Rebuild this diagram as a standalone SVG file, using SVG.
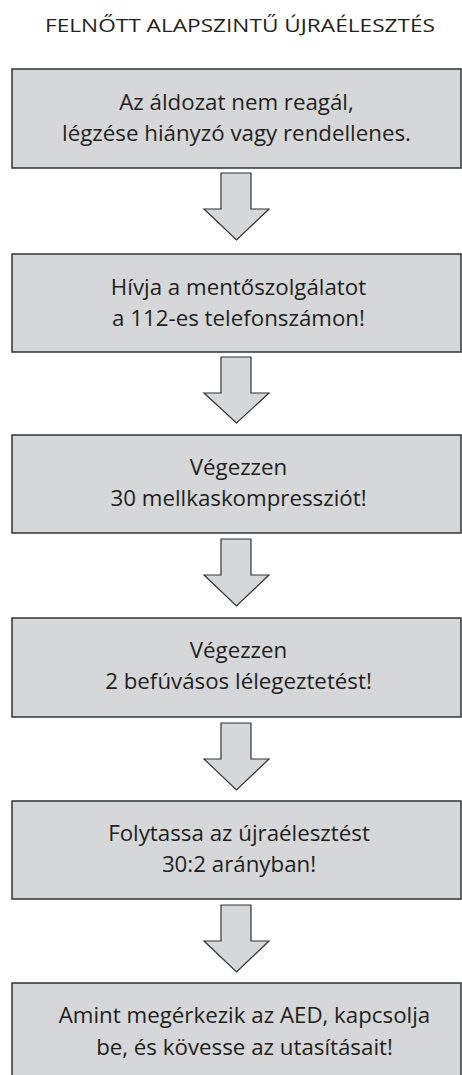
<svg xmlns="http://www.w3.org/2000/svg" width="462" height="1075" viewBox="0 0 462 1075">
<style>
.box{fill:#d6d7d9;stroke:#333;stroke-width:1.5}
.arr{fill:#d6d7d9;stroke:#333;stroke-width:1.2;stroke-linejoin:miter}
text{font-family:"Open Sans","Noto Sans","Liberation Sans",sans-serif;fill:#231f20;text-anchor:middle}
.t{font-size:22.3px}
.title{font-size:18.5px}
</style>
<rect width="462" height="1075" fill="#fff"/>
<text class="title" x="240" y="32" textLength="390" lengthAdjust="spacingAndGlyphs">FELNŐTT ALAPSZINTŰ ÚJRAÉLESZTÉS</text>
<g id="connectors">
<polygon class="arr" points="221,173 251,173 251,209 269,209 236.5,240 204,209 221,209"/>
<polygon class="arr" points="221,357 251,357 251,393 269,393 236.5,423 204,393 221,393"/>
<polygon class="arr" points="221,539 251,539 251,575 269,575 236.5,606 204,575 221,575"/>
<polygon class="arr" points="221,723 251,723 251,759 269,759 236.5,790 204,759 221,759"/>
<polygon class="arr" points="221,905 251,905 251,941 269,941 236.5,972 204,941 221,941"/>
</g>
<g id="n1">
<rect class="box" x="12" y="69" width="449" height="99"/>
<text class="t" x="236.5" y="110">Az áldozat nem reagál,</text>
<text class="t" x="236.5" y="141">légzése hiányzó vagy rendellenes.</text>
</g>
<g id="n2">
<rect class="box" x="12" y="254" width="449" height="98"/>
<text class="t" x="238.5" y="295">Hívja a mentőszolgálatot</text>
<text class="t" x="238.5" y="326">a 112-es telefonszámon!</text>
</g>
<g id="n3">
<rect class="box" x="12" y="435" width="449" height="98"/>
<text class="t" x="238.5" y="475">Végezzen</text>
<text class="t" x="238.5" y="506">30 mellkaskompressziót!</text>
</g>
<g id="n4">
<rect class="box" x="12" y="618" width="449" height="99"/>
<text class="t" x="238.5" y="658">Végezzen</text>
<text class="t" x="238.5" y="689">2 befúvásos lélegeztetést!</text>
</g>
<g id="n5">
<rect class="box" x="12" y="801" width="449" height="98"/>
<text class="t" x="239" y="841">Folytassa az újraélesztést</text>
<text class="t" x="239" y="872">30:2 arányban!</text>
</g>
<g id="n6">
<rect class="box" x="12" y="983" width="449" height="110"/>
<text class="t" x="244.5" y="1023">Amint megérkezik az AED, kapcsolja</text>
<text class="t" x="244.5" y="1055">be, és kövesse az utasításait!</text>
</g>
</svg>
